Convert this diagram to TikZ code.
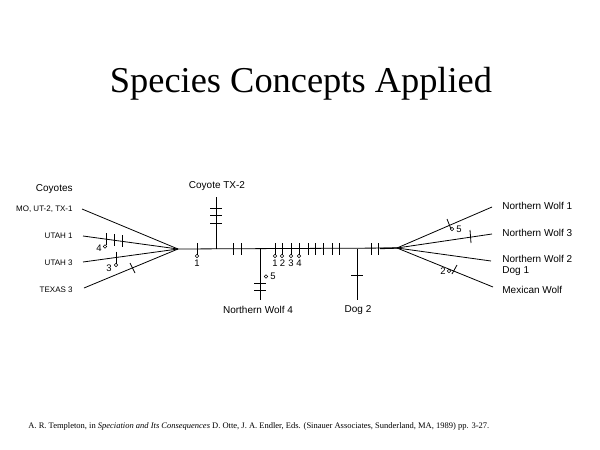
\documentclass[tikz,border=0pt]{standalone}
\usepackage{fontspec}
\setmainfont{Liberation Serif}
\setsansfont{Liberation Sans}
\usetikzlibrary{positioning}

\tikzset{
	headline/.style={font=\fontsize{36.4}{40}\selectfont, inner sep=0pt},
	taxon/.style={font=\sffamily\fontsize{10}{12}\selectfont, inner sep=0pt},
	smalltaxon/.style={font=\sffamily\fontsize{8}{10}\selectfont, inner sep=0pt},
	num/.style={font=\sffamily\fontsize{9.5}{10}\selectfont, inner sep=0pt},
	mut/.style={line width=0.5pt},
}

\begin{document}
\begin{tikzpicture}[x=1pt, y=-1pt, line width=0.8pt]
	\useasboundingbox (0,0) rectangle (600,450);

	% Title
	\node[headline, anchor=base] (title) at (301,92) {Species Concepts Applied};

	% Roots
	\coordinate (coyroot) at (178,249);
	\coordinate (wolfroot) at (397,248);

	% Coyote labels
	\node[taxon, anchor=east] (coyotes) at (73,189) {Coyotes};
	\node[smalltaxon, anchor=east] (motx) at (73,209) {MO, UT-2, TX-1};
	\node[smalltaxon, anchor=east] (utah1) at (73,236) {UTAH 1};
	\node[smalltaxon, anchor=east] (utah3) at (73,263) {UTAH 3};
	\node[smalltaxon, anchor=east] (texas3) at (73,290) {TEXAS 3};
	\coordinate (motxend) at (82,209);
	\coordinate (utah1end) at (83,236);
	\coordinate (utah3end) at (83,262);
	\coordinate (texas3end) at (84,288);

	% Coyote branches
	\draw (motxend) -- (coyroot);
	\draw (utah1end) -- (coyroot);
	\draw (utah3end) -- (coyroot);
	\draw (texas3end) -- (coyroot);
	\draw (106,239) +(0,-6) -- +(0,6);
	\draw (114,240) +(0,-6) -- +(0,6);
	\draw (122,241) +(0,-6) -- +(0,6);
	\draw[mut] (105,246.5) circle (1.8);
	\node[num] (m4) at (99,248) {4};
	\draw (116,257.5) +(0,-6) -- +(0,6);
	\draw[mut] (116,265) circle (1.8);
	\node[num] (m3) at (109,268) {3};
	\draw (130,263) -- (135,273);

	% Main line
	\draw (coyroot) -- (wolfroot);
	\draw[line width=1.3pt] (380,248.5) -- (wolfroot);
	\draw (197,249) +(0,-6) -- +(0,6);
	\draw[mut] (197,256) circle (1.8);
	\node[num] (n1) at (197,263) {1};
	\draw (233,249) +(0,-6) -- +(0,6);
	\draw (241,249) +(0,-6) -- +(0,6);
	\draw (275,249) +(0,-6) -- +(0,6);
	\draw (282,249) +(0,-6) -- +(0,6);
	\draw (291,249) +(0,-6) -- +(0,6);
	\draw (299,249) +(0,-6) -- +(0,6);
	\draw[mut] (275,256) circle (1.8);
	\draw[mut] (282,256) circle (1.8);
	\draw[mut] (291,256) circle (1.8);
	\draw[mut] (299,256) circle (1.8);
	\node[num] (n1b) at (275,263.5) {1};
	\node[num] (n2) at (282.5,263.5) {2};
	\node[num] (n3) at (291,263.5) {3};
	\node[num] (n4) at (299,263.5) {4};
	\draw (308,249) +(0,-6) -- +(0,6);
	\draw (315,249) +(0,-6) -- +(0,6);
	\draw (323,249) +(0,-6) -- +(0,6);
	\draw (332,249) +(0,-6) -- +(0,6);
	\draw (339,249) +(0,-6) -- +(0,6);
	\draw (371,249) +(0,-6) -- +(0,6);
	\draw (378,249) +(0,-6) -- +(0,6);

	% Coyote TX-2
	\coordinate (tx2base) at (216,249);
	\coordinate (tx2top) at (216,197);
	\draw (tx2base) -- (tx2top);
	\draw (216,208) +(-6,0) -- +(6,0);
	\draw (216,215) +(-6,0) -- +(6,0);
	\draw (216,223) +(-6,0) -- +(6,0);
	\node[taxon] (tx2) at (217,186) {Coyote TX-2};

	% Northern Wolf 4
	\coordinate (nw4base) at (260,249);
	\coordinate (nw4end) at (260,300);
	\draw (nw4base) -- (nw4end);
	\draw (260,283) +(-6,0) -- +(6,0);
	\draw (260,290) +(-6,0) -- +(6,0);
	\draw[mut] (266,276.5) circle (1.8);
	\node[num] (m5) at (273,276) {5};
	\node[taxon] (nw4) at (258,310) {Northern Wolf 4};

	% Dog 2
	\coordinate (dog2base) at (357,249);
	\coordinate (dog2end) at (357,300);
	\draw (dog2base) -- (dog2end);
	\draw (357,275) +(-6,0) -- +(6,0);
	\node[taxon] (dog2) at (358,310) {Dog 2};

	% Wolf labels
	\node[taxon, anchor=west] (nw1) at (502,206) {Northern Wolf 1};
	\node[taxon, anchor=west] (nw3) at (502,233) {Northern Wolf 3};
	\node[taxon, anchor=west] (nw2) at (502,259) {Northern Wolf 2};
	\node[taxon, anchor=west] (dog1) at (502,271) {Dog 1};
	\node[taxon, anchor=west] (mexwolf) at (502,290) {Mexican Wolf};
	\coordinate (nw1end) at (492,207);
	\coordinate (nw3end) at (492,234);
	\coordinate (nw2end) at (491,261);
	\coordinate (mexend) at (493,287);

	% Wolf branches
	\draw (wolfroot) -- (nw1end);
	\draw (wolfroot) -- (nw3end);
	\draw (wolfroot) -- (nw2end);
	\draw (wolfroot) -- (mexend);
	\draw (447,219) -- (451,229);
	\draw[mut] (452,229) circle (1.8);
	\node[num] (m5b) at (459,229) {5};
	\draw (470,230) -- (471,243);
	\draw (452,274) -- (457,265);
	\draw[mut] (449,271) circle (1.8);
	\node[num] (m2) at (443,271) {2};

	% Source
	\node[font=\fontsize{8.5}{10}\selectfont, inner sep=0pt, anchor=base west] (source) at (28,428)
		{A. R. Templeton, in \textit{Speciation and Its Consequences} D. Otte, J. A. Endler, Eds. (Sinauer Associates, Sunderland, MA, 1989) pp. 3-27.};
\end{tikzpicture}
\end{document}
